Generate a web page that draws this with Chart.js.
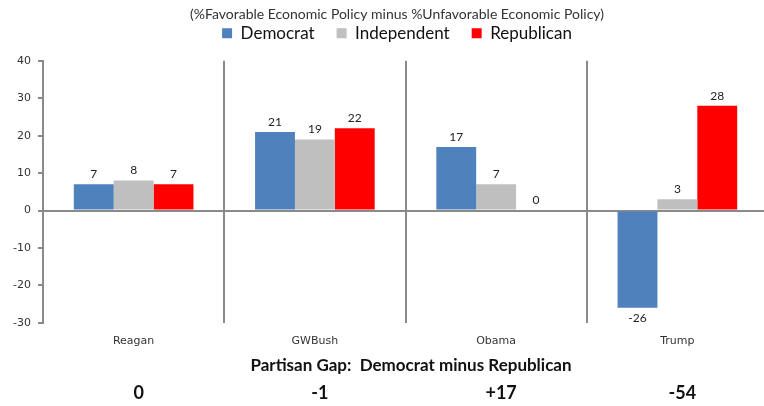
<!DOCTYPE html>
<html>
<head>
<meta charset="utf-8">
<script src="https://cdn.jsdelivr.net/npm/chart.js@4"></script>
<style>
  html, body { margin: 0; padding: 0; background: #fff; overflow: hidden; }
  #wrap { width: 768px; height: 406px; }
</style>
</head>
<body>
<div id="wrap"><canvas id="chart" width="768" height="406"></canvas></div>
<script>
// presidents and the net favourable score by party
const presidents = ['Reagan', 'GWBush', 'Obama', 'Trump'];
const democrat = [7, 21, 17, -26];
const independent = [8, 19, 7, 3];
const republican = [7, 22, 0, 28];
const yTicks = [-30, -20, -10, 0, 10, 20, 30, 40];

// gap row at the bottom: Democrat minus Republican
const partisanGap = democrat.map((d, i) => d - republican[i]);

const GRID = '#8a8a8a';
const CAL = 'Lato, "Open Sans", sans-serif';

// nudge the header blocks a little right / up after layout
const headerShift = {
    id: 'headerShift',
    afterLayout(chart) {
        [chart.titleBlock, chart.legend].forEach(b => {
            if (!b) return;
            b.left += 13;
            b.right += 13;
        });
        if (chart.legend) {
            chart.legend.top -= 9;
            chart.legend.bottom -= 9;
        }
    }
};

// value labels over (or under) each bar
const barLabels = {
    id: 'barLabels',
    afterDatasetsDraw(chart) {
        const ctx = chart.ctx;
        ctx.save();
        ctx.font = '12px ' + CAL;
        ctx.fillStyle = '#222';
        ctx.textAlign = 'center';
        chart.data.datasets.forEach((ds, di) => {
            chart.getDatasetMeta(di).data.forEach((bar, i) => {
                const v = ds.data[i];
                if (v < 0) {
                    ctx.textBaseline = 'top';
                    ctx.fillText(v, bar.x, bar.y + 4);
                } else {
                    ctx.textBaseline = 'bottom';
                    ctx.fillText(v, bar.x, bar.y - 4);
                }
            });
        });
        ctx.restore();
    }
};

// "Partisan Gap" heading and numbers under each category
const gapRow = {
    id: 'gapRow',
    afterDraw(chart) {
        const ctx = chart.ctx;
        const x = chart.scales.x;
        ctx.save();
        ctx.fillStyle = '#111';
        ctx.textAlign = 'center';
        ctx.textBaseline = 'middle';
        ctx.font = 'bold 17px ' + CAL;
        ctx.fillText('Partisan Gap:  Democrat minus Republican', 411, 366);
        ctx.font = 'bold 18px ' + CAL;
        partisanGap.forEach((g, i) => {
            const txt = g > 0 ? '+' + g : String(g);
            ctx.fillText(txt, x.getPixelForValue(i) + 5, 393);
        });
        ctx.restore();
    }
};

new Chart(document.getElementById('chart'), {
    type: 'bar',
    data: {
        labels: presidents,
        datasets: [
            { label: 'Democrat', data: democrat, backgroundColor: '#4f81bd' },
            { label: 'Independent', data: independent, backgroundColor: '#bfbfbf' },
            { label: 'Republican', data: republican, backgroundColor: '#ff0000' }
        ]
    },
    options: {
        responsive: false,
        animation: false,
        categoryPercentage: 0.66,
        barPercentage: 1.0,
        layout: { padding: { top: 0, right: 0, bottom: 46, left: 0 } },
        plugins: {
            title: {
                display: true,
                text: '(%Favorable Economic Policy minus %Unfavorable Economic Policy)',
                color: '#333',
                font: { family: CAL, size: 14, weight: 'normal' },
                padding: { top: 6, bottom: -11 }
            },
            legend: {
                position: 'top',
                labels: {
                    color: '#111',
                    font: { family: CAL, size: 17 },
                    boxWidth: 10,
                    boxHeight: 10,
                    padding: 22
                }
            },
            tooltip: { enabled: false }
        },
        scales: {
            x: {
                border: { display: false },
                grid: {
                    offset: true,
                    color: GRID,
                    lineWidth: 2,
                    drawTicks: false
                },
                ticks: {
                    color: '#333',
                    font: { family: '"DejaVu Sans"', size: 11 },
                    padding: 12
                }
            },
            y: {
                min: -30,
                max: 40,
                afterBuildTicks(scale) {
                    scale.ticks = yTicks.map(v => ({ value: v }));
                },
                afterFit(scale) { scale.width = 43; },
                border: { display: true, color: GRID, width: 2 },
                grid: {
                    color: c => c.tick && c.tick.value === 0 ? GRID : 'rgba(0,0,0,0)',
                    lineWidth: 2,
                    tickColor: GRID,
                    tickLength: 5
                },
                ticks: {
                    color: '#333',
                    font: { family: '"DejaVu Sans"', size: 11 },
                    padding: 7
                }
            }
        }
    },
    plugins: [headerShift, barLabels, gapRow]
});
</script>
</body>
</html>
